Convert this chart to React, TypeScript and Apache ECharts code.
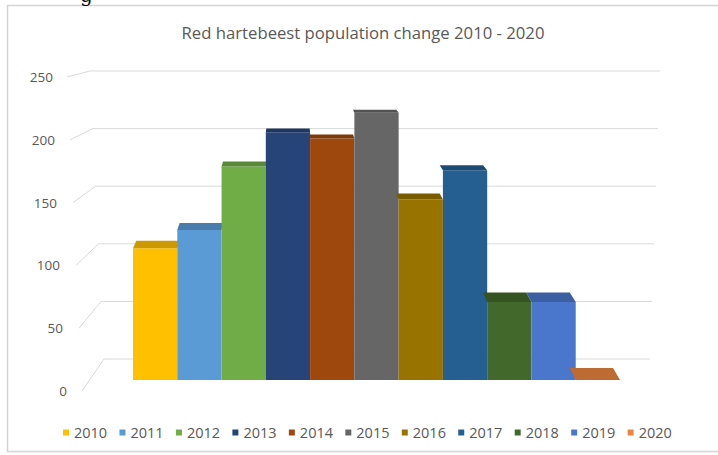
import React, { useEffect, useRef } from 'react';
import * as echarts from 'echarts';

// ---- data ----
const TITLE = 'Red hartebeest population change 2010 - 2020';
const YEARS = ['2010', '2011', '2012', '2013', '2014', '2015', '2016', '2017', '2018', '2019', '2020'];
const POPULATION = [108, 123, 175, 203, 198, 219, 148, 172, 64, 64, 0];
const Y_TICKS = [0, 50, 100, 150, 200, 250];
const Y_MIN = 0;
const Y_MAX = 250;
const Y_STEP = 50;

// ---- styles ----
const PALETTE = ['#FFC000', '#5B9BD5', '#70AD47', '#264478', '#9E480E', '#666666', '#997300', '#255E91', '#43682B', '#4A77CC', '#EC8440'];
const GRID_LINE = '#d9d9d9';
const TEXT = '#595959';
const FONT = "'Open Sans', sans-serif";
// right padding of each front-wall tick label (perspective shift)
const LABEL_PAD: Record<string, number> = { '0': 0, '50': 4, '100': 7, '150': 10, '200': 12, '250': 14 };
// perspective of the bar top faces
const DEPTH_X = 0.021;
const VP_X = 290;
const DEPTH_Y = 0.0333;
const VP_Y = 20;
// taper of the back wall (px at value 0)
const LEFT_TAPER = 14;
const RIGHT_TAPER = 10;

function shade(hex: string, f: number): string {
  const n = parseInt(hex.slice(1), 16);
  const r = Math.round(((n >> 16) & 255) * f);
  const g = Math.round(((n >> 8) & 255) * f);
  const b = Math.round((n & 255) * f);
  return 'rgb(' + r + ',' + g + ',' + b + ')';
}

export default function App() {
  const ref = useRef<HTMLDivElement>(null);

  useEffect(() => {
    const chart = echarts.init(ref.current as HTMLDivElement, null, { renderer: 'svg' });

    const barSeries = YEARS.map((year, i) => ({
      type: 'custom',
      name: year,
      xAxisIndex: 0,
      yAxisIndex: 0,
      itemStyle: { color: PALETTE[i] },
      encode: { x: 0, y: 1 },
      data: [[i, POPULATION[i]]],
      renderItem: (params: any, api: any) => {
        const idx = api.value(0);
        const val = api.value(1);
        const base = api.coord([idx, 0]);
        const top = api.coord([idx, val]);
        const w = api.size([1, 0])[0];
        const xl = base[0] - w / 2;
        const xr = base[0] + w / 2;
        const yb = base[1];
        const yt = top[1];
        const dy = -DEPTH_Y * (yt - VP_Y);
        const dxl = DEPTH_X * (VP_X - xl);
        const dxr = DEPTH_X * (VP_X - xr);
        const children: any[] = [];
        if (yb - yt > 0) {
          children.push({
            type: 'rect',
            shape: { x: xl, y: yt, width: w, height: yb - yt },
            style: { fill: PALETTE[i] },
          });
        }
        children.push({
          type: 'polygon',
          shape: { points: [[xl, yt], [xr, yt], [xr + dxr, yt + dy], [xl + dxl, yt + dy]] },
          style: { fill: shade(PALETTE[i], 0.8) },
        });
        return { type: 'group', children };
      },
    }));

    const backWall = {
      type: 'custom',
      name: 'backWall',
      silent: true,
      xAxisIndex: 1,
      yAxisIndex: 1,
      encode: { x: 0, y: 1 },
      data: Y_TICKS.map((v) => [0, v]),
      z: 1,
      renderItem: (params: any, api: any) => {
        const v = api.value(1);
        const l = api.coord([0, v]);
        const r = api.coord([1, v]);
        const t = 1 - v / Y_MAX;
        return {
          type: 'line',
          shape: { x1: l[0] + LEFT_TAPER * t, y1: l[1], x2: r[0] - RIGHT_TAPER * t, y2: r[1] },
          style: { stroke: GRID_LINE, lineWidth: 1 },
        };
      },
    };

    const option: any = {
      animation: false,
      backgroundColor: '#ffffff',
      color: PALETTE,
      title: {
        text: TITLE,
        left: 358,
        top: 19,
        textAlign: 'center',
        textStyle: { fontFamily: FONT, fontSize: 16.7, fontWeight: 'normal', color: TEXT },
      },
      legend: {
        data: YEARS,
        left: 58,
        top: 420,
        icon: 'rect',
        itemWidth: 6,
        itemHeight: 6,
        itemGap: 12.3,
        textStyle: { fontFamily: FONT, fontSize: 14.5, color: TEXT },
      },
      grid: [
        { left: 133, right: 98, top: 75, bottom: 75 }, // bar plane
        { left: 90, right: 58, top: 71, bottom: 96 }, // back wall
        { left: 67, width: 15, top: 77, bottom: 64 }, // front edge (labels)
      ],
      xAxis: [
        { type: 'category', gridIndex: 0, data: YEARS, show: false, boundaryGap: true },
        { type: 'value', gridIndex: 1, min: 0, max: 1, show: false },
        { type: 'value', gridIndex: 2, min: Y_MIN, max: Y_MAX, inverse: true, show: false },
      ],
      yAxis: [
        { type: 'value', gridIndex: 0, min: Y_MIN, max: Y_MAX, interval: Y_STEP, show: false },
        { type: 'value', gridIndex: 1, min: Y_MIN, max: Y_MAX, interval: Y_STEP, show: false },
        {
          type: 'value',
          gridIndex: 2,
          min: Y_MIN,
          max: Y_MAX,
          interval: Y_STEP,
          axisLine: { show: false },
          axisTick: { show: false },
          splitLine: { show: false },
          axisLabel: {
            margin: 0,
            formatter: (v: number) => '{p' + v + '|' + v + '}',
            rich: Object.fromEntries(
              Y_TICKS.map((v) => [
                'p' + v,
                { fontFamily: FONT, fontSize: 13.5, color: TEXT, padding: [0, LABEL_PAD[String(v)], 0, 0] },
              ])
            ),
          },
        },
      ],
      series: [backWall, ...barSeries],
    };

    chart.setOption(option);

    const slants = Y_TICKS.map((v) => {
      const f = chart.convertToPixel({ xAxisIndex: 2, yAxisIndex: 2 } as any, [v, v]) as number[];
      const b = chart.convertToPixel({ xAxisIndex: 1, yAxisIndex: 1 } as any, [0, v]) as number[];
      const t = 1 - v / Y_MAX;
      return {
        type: 'line',
        silent: true,
        shape: { x1: f[0], y1: f[1], x2: b[0] + LEFT_TAPER * t, y2: b[1] },
        style: { stroke: GRID_LINE, lineWidth: 1 },
      };
    });

    chart.setOption({
      graphic: [
        {
          type: 'rect',
          silent: true,
          shape: { x: 7.5, y: 5.5, width: 720, height: 446 },
          style: { fill: 'none', stroke: '#d4d4d4', lineWidth: 1.5 },
        },
        {
          type: 'text',
          silent: true,
          x: 80,
          y: 5,
          style: { text: 'g', font: '20px "DejaVu Serif", serif', fill: '#000', verticalAlign: 'bottom' },
        },
        ...slants,
      ],
    });

    return () => chart.dispose();
  }, []);

  return (
    <div
      ref={ref}
      style={{ position: 'absolute', left: 0, top: 0, width: 718, height: 455, background: '#ffffff' }}
    />
  );
}
